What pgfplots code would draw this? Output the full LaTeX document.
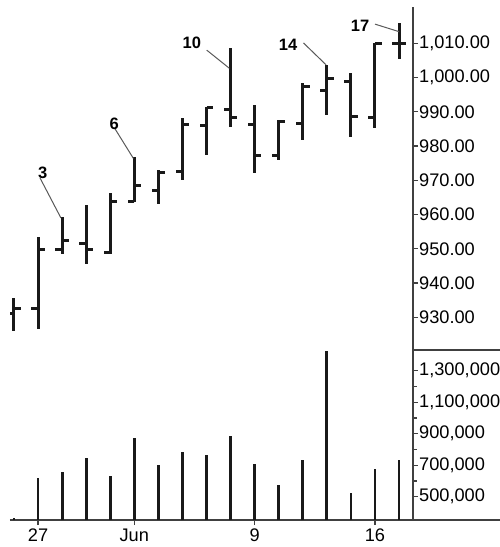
\documentclass[border=0pt]{standalone}
\usepackage{pgfplots}
\pgfplotsset{compat=1.18}
\usepackage{pgfplotstable}
\usepackage{fontspec}
\setmainfont{Liberation Sans}

% day, open, high, low, close, volume
\pgfplotstableread{
day open high low close vol
1 931.0 935.5 926.1 932.5 365000
2 932.5 953.4 926.6 949.7 620600
3 949.7 959.3 948.6 952.4 654900
4 951.5 962.7 945.6 949.7 743800
5 949.0 966.3 948.6 963.9 633300
6 963.9 976.8 963.6 968.4 874600
7 966.9 972.9 963.2 972.4 699400
8 972.7 988.1 970.0 986.4 785700
9 986.0 991.3 977.3 991.3 764800
10 990.8 1008.5 985.6 988.2 887300
11 986.4 992.0 972.0 977.3 705700
12 977.3 987.6 975.9 987.1 574300
13 986.6 998.3 981.7 997.5 734900
14 996.1 1003.6 989.0 999.8 1427000
15 998.8 1001.4 982.7 988.7 523500
16 988.3 1010.0 985.3 1009.8 675900
17 1010.0 1015.9 1005.3 1009.8 734900
}\ohlc

\newcommand{\lbl}{\fontsize{18.2}{21}\selectfont}
\newcommand{\num}{\fontsize{16.5}{19}\selectfont\bfseries}

\begin{document}
\begin{tikzpicture}
\pgfplotsset{
  every axis/.append style={
    scale only axis, anchor=south west, width=403pt,
    xmin=0.834, xmax=17.58,
    axis line style={line width=1.4pt, black!75},
    tick align=outside, major tick length=5pt, minor tick length=4pt,
    tick style={line width=1.2pt, black!75},
    yticklabel style={font=\lbl, anchor=west, inner sep=0pt, xshift=1pt},
    xticklabel style={font=\lbl, inner sep=0pt, yshift=-4pt},
  },
  ohlcbar/.style={draw=none, mark=none, error bars/error mark=none,
    error bars/error bar style={draw=black!90, line width=3pt}},
}

% price panel
\begin{axis}[name=price, at={(10pt,197pt)}, height=343pt,
  ymin=920.45, ymax=1020.6,
  axis x line=none, axis y line*=right,
  ytick={930,940,950,960,970,980,990,1000,1010},
  scaled y ticks=false,
  yticklabel style={/pgf/number format/fixed, /pgf/number format/fixed zerofill,
    /pgf/number format/precision=2, /pgf/number format/1000 sep={,},
    /pgf/number format/assume math mode=true},
]
\addplot[ohlcbar, error bars/y dir=both, error bars/y explicit]
  table[x=day, y expr={(\thisrow{high}+\thisrow{low})/2},
        y error expr={(\thisrow{high}-\thisrow{low})/2}] {\ohlc};
\addplot[ohlcbar, error bars/x dir=minus, error bars/x fixed=0.28]
  table[x=day, y=open] {\ohlc};
\addplot[ohlcbar, error bars/x dir=plus, error bars/x fixed=0.28]
  table[x=day, y=close] {\ohlc};

% bar numbers
\begin{scope}[black!65, line width=1pt]
\draw (axis cs:2.08,970.7) -- (axis cs:2.95,959.0);
\draw (axis cs:5.2,985.0) -- (axis cs:5.96,976.4);
\draw (axis cs:9.01,1008.0) -- (axis cs:9.95,1002.7);
\draw (axis cs:13.03,1010.1) -- (axis cs:13.97,1003.7);
\draw (axis cs:16.0,1015.6) -- (axis cs:17.0,1013.4);
\end{scope}
\node[font=\num] at (axis cs:2.19,972.1) {3};
\node[font=\num] at (axis cs:5.16,986.4) {6};
\node[font=\num] at (axis cs:8.39,1010.2) {10};
\node[font=\num] at (axis cs:12.39,1009.5) {14};
\node[font=\num] at (axis cs:15.38,1015.1) {17};
\end{axis}

% volume panel
\begin{axis}[name=vol, at={(10pt,27pt)}, height=170pt,
  ymin=352000, ymax=1431000,
  axis x line*=bottom, axis y line*=right,
  xtick={2,6,11,16}, xticklabels={27,Jun,9,16},
  ytick={500000,700000,900000,1100000,1300000},
  minor ytick={600000,800000,1000000,1200000},
  scaled y ticks=false,
  yticklabel style={/pgf/number format/fixed, /pgf/number format/precision=0,
    /pgf/number format/1000 sep={,}, /pgf/number format/assume math mode=true},
]
\addplot[ycomb, black!90, line width=2.8pt, mark=none] table[x=day, y=vol] {\ohlc};
\end{axis}

\draw[line width=1.4pt, black!75] (price.south east) -- ++(87pt,0);
\draw[line width=1.4pt, black!75] (vol.south east) -- ++(87pt,0);

\pgfresetboundingbox
\path (0,0) rectangle (500pt,547pt);
\end{tikzpicture}
\end{document}
